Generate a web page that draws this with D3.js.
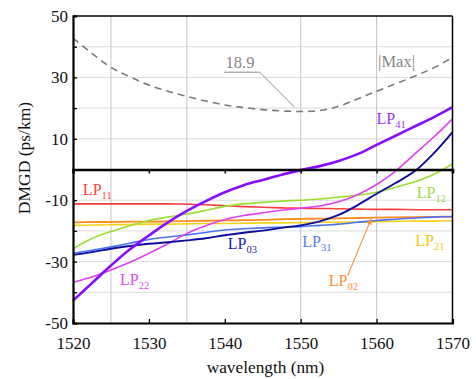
<!DOCTYPE html>
<html>
<head>
<meta charset="utf-8">
<script src="https://cdn.jsdelivr.net/npm/d3@7"></script>
<style>
  html, body { margin: 0; padding: 0; background: #ffffff; }
  svg { display: block; }
</style>
</head>
<body>
<svg id="chart" width="476" height="379"></svg>
<script>
// ---------------- data ----------------
const wavelengths = [1520, 1522.5, 1525, 1527.5, 1530, 1532.5, 1535, 1537.5, 1540, 1542.5, 1545,
                     1547.5, 1550, 1552.5, 1555, 1557.5, 1560, 1562.5, 1565, 1567.5, 1570];

const maxAbs = [42.8, 37.8, 33.3, 30.2, 27.5, 25.5, 23.8, 22.3, 21.0, 20.2, 19.5,
                19.1, 18.9, 19.2, 20.6, 23.0, 25.5, 27.9, 30.4, 33.1, 36.5];
const lp11 = [-11.2, -11.2, -11.2, -11.2, -11.2, -11.2, -11.3, -11.5, -11.8, -12.1, -12.3,
              -12.5, -12.6, -12.7, -12.8, -12.9, -13.0, -13.0, -13.1, -13.1, -13.1];
const lp02 = [-17.2, -17.1, -17.1, -17.0, -17.0, -16.9, -16.8, -16.7, -16.6, -16.5, -16.4,
              -16.2, -16.1, -16.0, -15.9, -15.8, -15.7, -15.6, -15.5, -15.4, -15.4];
const lp21 = [-18.2, -18.1, -18.0, -17.9, -17.8, -17.8, -17.7, -17.6, -17.6, -17.5, -17.4,
              -17.4, -17.3, -17.2, -17.2, -17.1, -17.0, -16.9, -16.8, -16.8, -16.7];
const lp12 = [-25.8, -22.5, -20.2, -18.3, -16.6, -15.5, -14.5, -13.3, -12.0, -11.2, -10.7,
              -10.3, -10.0, -9.6, -9.0, -8.4, -7.4, -5.8, -4.0, -1.6, 1.8];
const lp31 = [-27.3, -26.3, -25.2, -24.0, -22.8, -22.0, -21.3, -20.5, -19.7, -19.3, -19.0,
              -18.8, -18.6, -18.2, -17.8, -17.2, -16.6, -16.2, -15.8, -15.5, -15.3];
const lp03 = [-27.8, -26.9, -25.8, -24.9, -24.2, -23.7, -23.1, -22.4, -21.4, -20.6, -19.9,
              -19.0, -18.2, -16.9, -14.8, -11.6, -7.9, -4.4, -0.6, 5.2, 12.2];
const lp22 = [-36.7, -35.0, -32.7, -30.2, -27.3, -24.2, -20.8, -18.3, -16.3, -15.0, -14.1,
              -13.3, -12.6, -11.9, -10.5, -8.2, -4.9, -0.5, 5.0, 10.5, 16.5];
const lp41 = [-42.7, -37.0, -31.3, -26.0, -21.5, -17.2, -13.5, -10.3, -7.4, -5.1, -3.4,
              -1.7, -0.2, 1.1, 2.8, 5.0, 8.0, 11.0, 14.0, 17.0, 20.3];

const yTicks = [-50, -40, -30, -20, -10, 0, 10, 20, 30, 40, 50];
const yTickLabels = [-50, -30, -10, 10, 30, 50];
const xTicks = [1520, 1530, 1540, 1550, 1560, 1570];
const xGrid = [1525, 1535, 1550, 1560];
const yGrid = [-40, -30, -20, -10, 10, 20, 30, 40];
const minLabel = "18.9";
const maxLabel = "|Max|";

// series styling (name, values, colour, width, label position in data units)
const series = [
  {name: "LP", sub: "11", v: lp11, c: "#ff3b3b", w: 1.6, lc: "#ff4444", lx: 1521.3, ly: -8.2},
  {name: "LP", sub: "02", v: lp02, c: "#ff8a1e", w: 1.8, lc: "#ff8c3a", lx: 1553.7, ly: -38.1},
  {name: "LP", sub: "21", v: lp21, c: "#f2d21a", w: 1.6, lc: "#eecb12", lx: 1565.1, ly: -24.8},
  {name: "LP", sub: "12", v: lp12, c: "#9bde33", w: 1.6, lc: "#9ed84a", lx: 1565.3, ly: -9.2},
  {name: "LP", sub: "31", v: lp31, c: "#4a72f0", w: 1.6, lc: "#5a7cee", lx: 1550.2, ly: -25.3},
  {name: "LP", sub: "22", v: lp22, c: "#e040f2", w: 1.6, lc: "#dd4cee", lx: 1526.2, ly: -37.6},
  {name: "LP", sub: "03", v: lp03, c: "#0d0d9c", w: 1.9, lc: "#1c1ca8", lx: 1540.4, ly: -25.8},
  {name: "LP", sub: "41", v: lp41, c: "#8a0cff", w: 2.6, lc: "#9933ff", lx: 1560.0, ly: 14.9}
];

const FONT = "'Liberation Serif'";

// ---------------- layout ----------------
const svg = d3.select("#chart");
const x = d3.scaleLinear().domain([1520, 1570]).range([73, 452.5]);
const y = d3.scaleLinear().domain([-50, 50]).range([323, 16]);

// grid
svg.append("g").selectAll("line").data(yGrid).join("line")
  .attr("x1", x(1520)).attr("x2", x(1570))
  .attr("y1", d => y(d)).attr("y2", d => y(d))
  .attr("stroke", "#dcdcdc").attr("stroke-width", 1);
svg.append("g").selectAll("line").data(xGrid).join("line")
  .attr("x1", d => x(d)).attr("x2", d => x(d))
  .attr("y1", y(50)).attr("y2", y(-50))
  .attr("stroke", "#c4c4c4").attr("stroke-width", 1);

const line = d3.line()
  .x((d, i) => x(wavelengths[i]))
  .y(d => y(d))
  .curve(d3.curveCatmullRom.alpha(0.5));

// |Max| dashed curve
svg.append("path").datum(maxAbs)
  .attr("d", line).attr("fill", "none")
  .attr("stroke", "#7a7a7a").attr("stroke-width", 1.6)
  .attr("stroke-dasharray", "7,5");

// mode curves
svg.append("g").selectAll("path").data(series).join("path")
  .attr("d", s => line(s.v)).attr("fill", "none")
  .attr("stroke", s => s.c).attr("stroke-width", s => s.w);

// zero line with downward ticks
const zeroAxis = svg.append("g").attr("transform", `translate(0,${y(0)})`)
  .call(d3.axisBottom(x).tickValues([1530, 1540, 1550, 1560]).tickSize(4).tickFormat(""));
zeroAxis.select(".domain").attr("stroke", "#000").attr("stroke-width", 2.6);
zeroAxis.selectAll(".tick line").attr("stroke", "#000").attr("stroke-width", 1.5);

// frame top/right
svg.append("line").attr("x1", x(1520)).attr("x2", x(1570)).attr("y1", y(50)).attr("y2", y(50))
  .attr("stroke", "#000").attr("stroke-width", 1.5);
svg.append("line").attr("x1", x(1570)).attr("x2", x(1570)).attr("y1", y(50)).attr("y2", y(-50))
  .attr("stroke", "#000").attr("stroke-width", 1.5);

// left axis
const yAxis = svg.append("g").attr("transform", `translate(${x(1520)},0)`)
  .call(d3.axisLeft(y).tickValues(yTicks).tickSize(-4).tickPadding(5)
    .tickFormat(d => yTickLabels.includes(d) ? String(d) : ""));
yAxis.attr("font-family", FONT).attr("font-size", 17);
yAxis.select(".domain").attr("stroke", "#000").attr("stroke-width", 2.2);
yAxis.selectAll(".tick line").attr("stroke", "#000").attr("stroke-width", 1.3);
yAxis.selectAll("text").style("font-size", "17px").style("font-family", FONT).attr("fill", "#111");

// bottom axis
const xAxis = svg.append("g").attr("transform", `translate(0,${y(-50)})`)
  .call(d3.axisBottom(x).tickValues(xTicks).tickSize(-4).tickPadding(14).tickFormat(d3.format("d")));
xAxis.attr("font-family", FONT).attr("font-size", 17);
xAxis.select(".domain").attr("stroke", "#000").attr("stroke-width", 2.2);
xAxis.selectAll(".tick line").attr("stroke", "#000").attr("stroke-width", 1.3);
xAxis.selectAll("text").style("font-size", "17px").style("font-family", FONT).attr("fill", "#111");

// axis titles
svg.append("text").attr("x", 265.5).attr("y", 373).attr("text-anchor", "middle")
  .style("font-family", FONT).style("font-size", "17.3px").attr("fill", "#111").text("wavelength (nm)");
svg.append("text").attr("transform", "translate(30,158) rotate(-90)").attr("text-anchor", "middle")
  .style("font-family", FONT).style("font-size", "17.5px").attr("fill", "#111").text("DMGD (ps/km)");

// mode labels
const lbl = svg.append("g").selectAll("text").data(series).join("text")
  .attr("x", s => x(s.lx)).attr("y", s => y(s.ly))
  .style("font-family", FONT).style("font-size", "16px").attr("fill", s => s.lc);
lbl.append("tspan").text(s => s.name);
lbl.append("tspan").attr("dy", 4).style("font-size", "10.5px").text(s => s.sub);

// LP02 arrow
const defs = svg.append("defs");
defs.append("marker").attr("id", "arr").attr("viewBox", "0 0 10 10").attr("refX", 9).attr("refY", 5)
  .attr("markerWidth", 6).attr("markerHeight", 6).attr("orient", "auto")
  .append("path").attr("d", "M0,1 L10,5 L0,9 Z").attr("fill", "#ff8c3a");
svg.append("line")
  .attr("x1", x(1556.2)).attr("y1", y(-34.5))
  .attr("x2", x(1559.3)).attr("y2", y(-16.0))
  .attr("stroke", "#ff8c3a").attr("stroke-width", 1.1).attr("marker-end", "url(#arr)");

// |Max| label and 18.9 annotation
svg.append("text").attr("x", x(1560.2)).attr("y", y(33.3))
  .style("font-family", FONT).style("font-size", "16.5px").attr("fill", "#858585").text(maxLabel);
svg.append("text").attr("x", x(1540.1)).attr("y", y(33.1))
  .style("font-family", FONT).style("font-size", "16.5px").attr("fill", "#858585").text(minLabel);
svg.append("path")
  .attr("d", `M${x(1539.9)},${y(31.7)} L${x(1544.6)},${y(31.7)} L${x(1549.2)},${y(20.3)}`)
  .attr("fill", "none").attr("stroke", "#8f8f8f").attr("stroke-width", 1);
</script>
</body>
</html>
